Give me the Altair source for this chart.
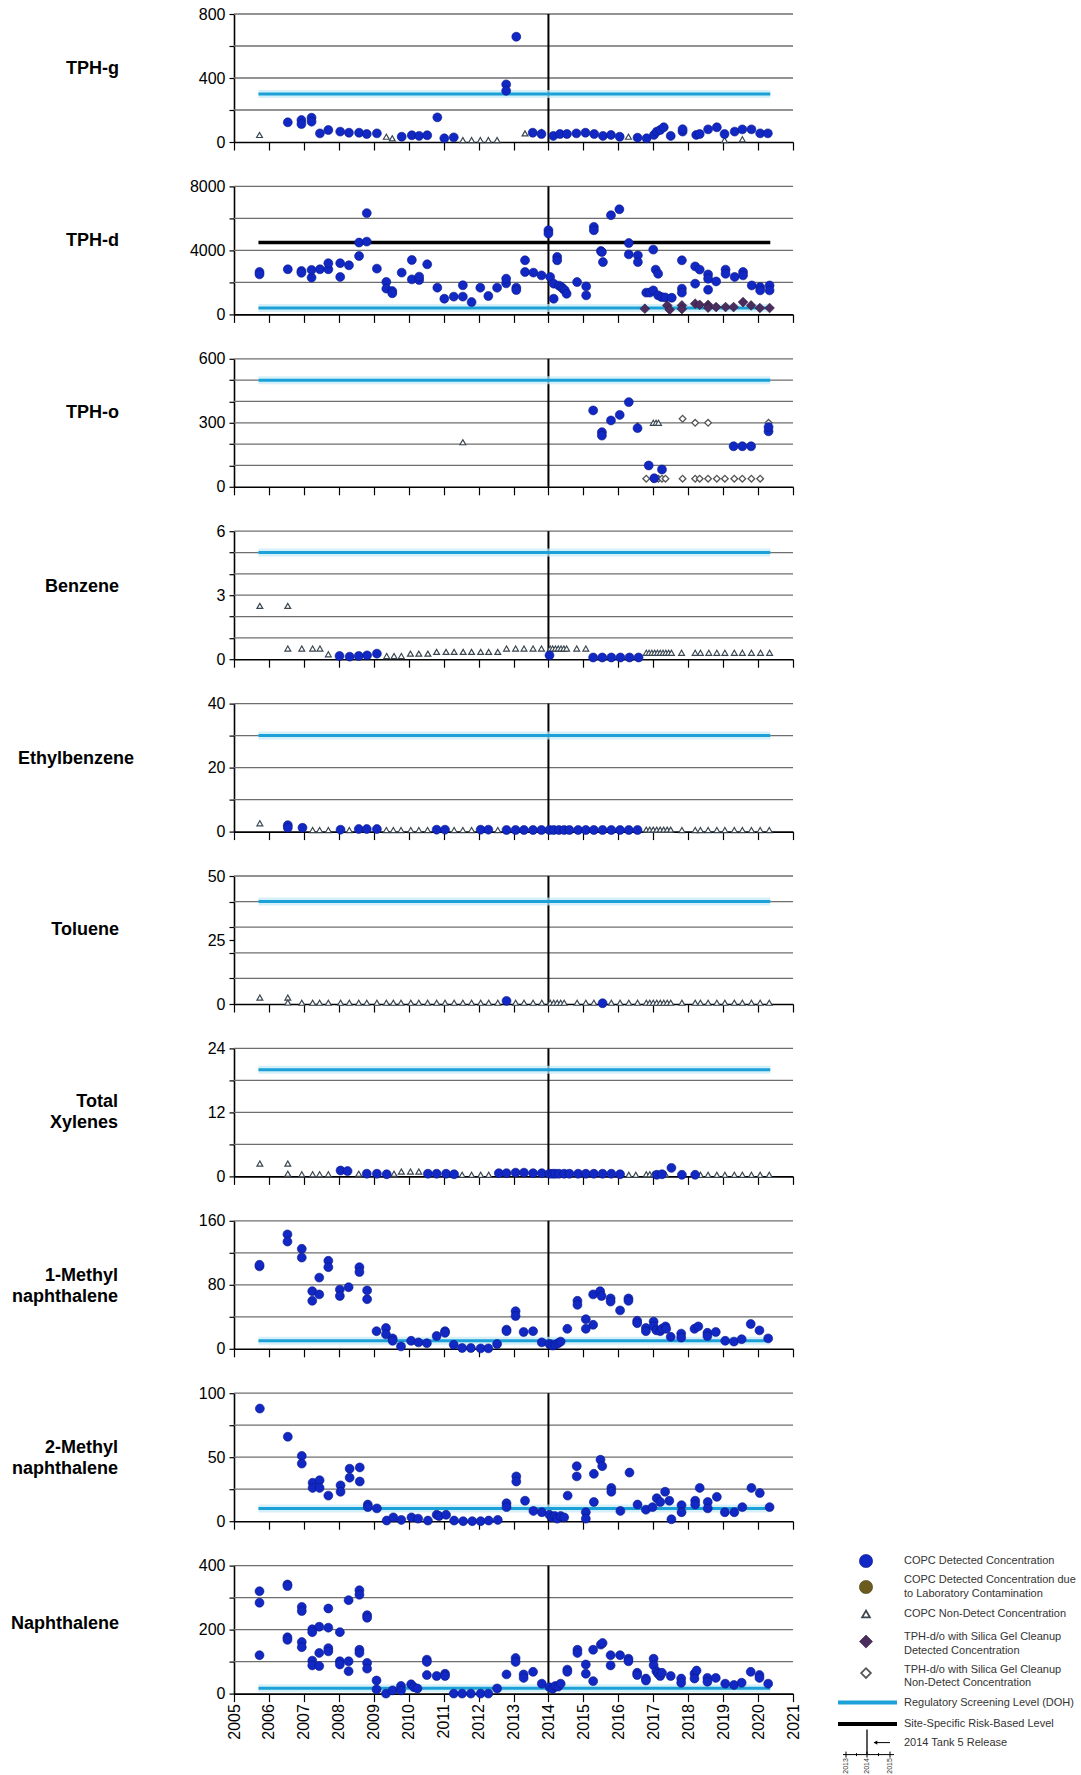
import altair as alt
import pandas as pd

# ---------------- data (year, concentration) ----------------
TPHG_DET = [(2006.54,123),(2006.93,137),(2006.93,112),(2007.22,152),(2007.22,127),(2007.46,54),(2007.7,75),
            (2008.04,65),(2008.29,58),(2008.58,58),(2008.8,50),(2009.09,54),(2009.8,33),(2010.09,42),(2010.3,38),
            (2010.53,42),(2010.82,154),(2011.02,23),(2011.29,29),(2012.79,360),(2012.79,320),(2013.08,658),
            (2013.55,58),(2013.8,50),(2014.14,38),(2014.33,50),(2014.53,50),(2014.8,54),(2015.06,58),(2015.31,50),
            (2015.56,38),(2015.79,44),(2016.04,33),(2016.55,27),(2016.81,23),(2017.02,44),(2017.1,65),(2017.2,75),
            (2017.3,92),(2017.5,38),(2017.84,65),(2017.84,80),(2018.23,44),(2018.33,50),(2018.57,79),(2018.82,92),
            (2019.04,50),(2019.33,65),(2019.55,79),(2019.81,79),(2020.06,54),(2020.28,54)]
TPHG_ND = [(2005.73,44),(2009.36,33),(2009.53,23),(2011.55,12),(2011.8,12),(2012.05,12),(2012.28,12),
           (2012.53,12),(2013.33,54),(2013.8,62),(2016.29,33),(2019.04,12),(2019.55,17)]

TPHD_DET = [(2005.73,2650),(2005.73,2500),(2006.54,2820),(2006.93,2715),(2006.93,2600),(2007.22,2300),
            (2007.22,2780),(2007.46,2820),(2007.7,2820),(2007.7,3200),(2008.04,3200),(2008.04,2340),
            (2008.29,3070),(2008.58,3650),(2008.58,4490),(2008.8,4550),(2008.8,6330),(2009.09,2860),
            (2009.36,2030),(2009.36,1610),(2009.53,1460),(2009.53,1320),(2009.8,2610),(2010.09,2190),
            (2010.09,3400),(2010.3,2150),(2010.3,2360),(2010.53,3130),(2010.82,1670),(2011.02,980),
            (2011.29,1110),(2011.55,1820),(2011.55,1110),(2011.8,770),(2012.05,1670),(2012.28,1150),
            (2012.53,1670),(2012.79,1940),(2012.79,2230),(2013.08,1670),(2013.08,1520),(2013.33,3380),
            (2013.33,2650),(2013.57,2610),(2013.8,2440),(2014.0,5260),(2014.0,5050),(2014.05,2340),
            (2014.15,1920),(2014.15,980),(2014.25,3590),(2014.25,3380),(2014.3,1800),(2014.37,1710),
            (2014.42,1600),(2014.47,1500),(2014.52,1290),(2014.82,2020),(2015.08,1750),(2015.08,1190),
            (2015.3,5470),(2015.3,5260),(2015.5,3960),(2015.53,3900),(2015.56,3270),(2015.79,6200),
            (2016.03,6570),(2016.3,4460),(2016.3,3750),(2016.56,3690),(2016.56,3270),(2016.8,1360),
            (2016.9,1360),(2017.0,4050),(2017.0,1500),(2017.07,2800),(2017.14,2540),(2017.14,1190),
            (2017.24,1080),(2017.34,1060),(2017.53,1040),(2017.82,3380),(2017.82,1610),(2017.82,1360),
            (2018.2,3000),(2018.33,2800),(2018.2,1920),(2018.57,2500),(2018.57,2230),(2018.57,1540),
            (2018.8,2060),(2019.07,2800),(2019.07,2540),(2019.33,2340),(2019.57,2650),(2019.57,2440),
            (2019.82,1810),(2020.06,1710),(2020.06,1500),(2020.33,1810),(2020.33,1500)]
TPHD_SGD = [(2016.76,355),(2017.4,560),(2017.47,290),(2017.82,560),(2017.82,330),(2018.2,670),(2018.33,600),
            (2018.57,600),(2018.57,420),(2018.8,460),(2019.07,460),(2019.3,460),(2019.57,770),(2019.8,560),
            (2020.05,400),(2020.33,400)]

TPHO_DET = [(2015.28,358),(2015.53,256),(2015.53,240),(2015.79,311),(2016.04,337),(2016.3,397),
            (2016.55,275),(2016.87,100),(2017.03,40),(2017.25,81),(2019.3,190),(2019.55,190),(2019.8,190),
            (2020.3,260),(2020.3,280)]
TPHO_ND = [(2011.55,209),(2016.55,287),(2017.0,300),(2017.08,300),(2017.15,300)]
TPHO_SGND = [(2017.84,319),(2018.2,300),(2018.57,300),(2020.3,300),(2016.8,38),(2017.0,38),(2017.15,38),
             (2017.25,38),(2017.35,38),(2017.84,38),(2018.2,38),(2018.33,38),(2018.57,38),(2018.82,38),
             (2019.05,38),(2019.32,38),(2019.55,38),(2019.81,38),(2020.06,38)]

BENZ_DET = [(2008.02,0.15),(2008.31,0.12),(2008.57,0.15),(2008.81,0.18),(2009.09,0.26),(2014.03,0.18),
            (2015.28,0.08),(2015.54,0.08),(2015.8,0.08),(2016.06,0.08),(2016.32,0.08),(2016.58,0.08)]
BENZ_ND = [(2005.74,2.5),(2006.54,2.5),(2006.54,0.5),(2006.94,0.5),(2007.25,0.5),(2007.46,0.5),(2007.7,0.23),
           (2009.37,0.15),(2009.58,0.15),(2009.79,0.15),(2010.05,0.26),(2010.29,0.26),(2010.55,0.26),
           (2010.8,0.34),(2011.07,0.34),(2011.3,0.34),(2011.56,0.34),(2011.8,0.34),(2012.06,0.34),
           (2012.29,0.34),(2012.55,0.34),(2012.8,0.5),(2013.06,0.5),(2013.3,0.5),(2013.56,0.5),(2013.8,0.5),
           (2014.05,0.5),(2014.12,0.5),(2014.2,0.5),(2014.28,0.5),(2014.36,0.5),(2014.44,0.5),(2014.52,0.5),
           (2014.81,0.5),(2015.07,0.5),(2016.8,0.3),(2016.88,0.3),(2016.96,0.3),(2017.04,0.3),(2017.12,0.3),
           (2017.2,0.3),(2017.28,0.3),(2017.36,0.3),(2017.44,0.3),(2017.52,0.3),(2017.81,0.3),(2018.2,0.3),
           (2018.35,0.3),(2018.59,0.3),(2018.82,0.3),(2019.05,0.3),(2019.32,0.3),(2019.55,0.3),(2019.81,0.3),
           (2020.07,0.3),(2020.33,0.3)]

ETHB_DET = [(2006.54,2.0),(2006.54,1.2),(2006.96,1.2),(2008.05,0.6),(2008.57,0.8),(2008.8,0.8),(2009.09,0.8),
            (2010.8,0.6),(2011.04,0.6),(2012.06,0.6),(2012.28,0.6),(2012.8,0.5),(2013.06,0.5),(2013.3,0.5),
            (2013.56,0.5),(2013.8,0.5),(2014.03,0.5),(2014.15,0.5),(2014.3,0.5),(2014.45,0.5),(2014.6,0.5),
            (2014.85,0.5),(2015.07,0.5),(2015.3,0.5),(2015.55,0.5),(2015.8,0.5),(2016.05,0.5),(2016.3,0.5),
            (2016.55,0.5)]
ETHB_ND = [(2005.74,2.6),(2007.25,0.5),(2007.45,0.5),(2007.7,0.5),(2008.3,0.5),(2009.36,0.5),(2009.56,0.5),
           (2009.78,0.5),(2010.06,0.5),(2010.29,0.5),(2010.54,0.5),(2011.3,0.5),(2011.55,0.5),(2011.8,0.5),
           (2012.55,0.5),(2016.8,0.6),(2016.9,0.6),(2017.0,0.6),(2017.1,0.6),(2017.2,0.6),(2017.3,0.6),
           (2017.4,0.6),(2017.5,0.6),(2017.82,0.5),(2018.2,0.5),(2018.35,0.5),(2018.57,0.5),(2018.82,0.5),
           (2019.05,0.5),(2019.32,0.5),(2019.55,0.5),(2019.81,0.5),(2020.06,0.5),(2020.32,0.5)]

TOL_DET = [(2012.8,1.2),(2015.55,0.3)]
TOL_ND = [(2005.74,2.5),(2006.54,2.5),(2006.54,0.6),(2006.94,0.5),(2007.25,0.5),(2007.45,0.5),(2007.7,0.5),
          (2008.05,0.5),(2008.3,0.5),(2008.57,0.5),(2008.8,0.5),(2009.09,0.5),(2009.36,0.5),(2009.56,0.5),
          (2009.78,0.5),(2010.06,0.5),(2010.29,0.5),(2010.54,0.5),(2010.8,0.5),(2011.04,0.5),(2011.3,0.5),
          (2011.55,0.5),(2011.8,0.5),(2012.06,0.5),(2012.29,0.5),(2012.55,0.5),(2013.06,0.5),(2013.3,0.5),
          (2013.56,0.5),(2013.81,0.5),(2014.05,0.5),(2014.15,0.5),(2014.25,0.5),(2014.35,0.5),(2014.45,0.5),
          (2014.82,0.5),(2015.07,0.5),(2015.3,0.5),(2015.8,0.5),(2016.05,0.5),(2016.3,0.5),(2016.55,0.5),
          (2016.8,0.5),(2016.9,0.5),(2017.0,0.5),(2017.1,0.5),(2017.2,0.5),(2017.3,0.5),(2017.4,0.5),
          (2017.5,0.5),(2017.82,0.5),(2018.2,0.5),(2018.35,0.5),(2018.57,0.5),(2018.82,0.5),(2019.05,0.5),
          (2019.32,0.5),(2019.55,0.5),(2019.81,0.5),(2020.06,0.5),(2020.32,0.5)]

XYL_DET = [(2008.05,1.1),(2008.25,1.0),(2008.8,0.5),(2009.09,0.5),(2009.37,0.4),(2010.55,0.5),(2010.8,0.5),
           (2011.07,0.5),(2011.3,0.4),(2012.58,0.6),(2012.8,0.6),(2013.06,0.7),(2013.3,0.7),(2013.56,0.6),
           (2013.81,0.6),(2014.03,0.5),(2014.12,0.5),(2014.2,0.5),(2014.3,0.5),(2014.45,0.5),(2014.6,0.5),
           (2014.85,0.5),(2015.07,0.5),(2015.3,0.5),(2015.55,0.5),(2015.8,0.5),(2016.05,0.4),(2017.1,0.3),
           (2017.25,0.4),(2017.52,1.6),(2017.82,0.3),(2018.2,0.3)]
XYL_ND = [(2005.74,2.4),(2006.54,2.4),(2006.54,0.5),(2006.94,0.4),(2007.25,0.4),(2007.45,0.4),(2007.7,0.4),
          (2008.57,0.5),(2009.58,0.5),(2009.79,0.9),(2010.05,0.9),(2010.29,0.9),(2011.53,0.3),(2011.8,0.3),
          (2012.06,0.3),(2012.29,0.3),(2016.3,0.3),(2016.5,0.3),(2016.8,0.4),(2016.9,0.4),(2017.0,0.4),
          (2017.2,0.4),(2017.35,0.4),(2018.35,0.3),(2018.57,0.3),(2018.82,0.3),(2019.05,0.3),(2019.32,0.3),
          (2019.55,0.3),(2019.81,0.3),(2020.06,0.3),(2020.32,0.3)]

MN1_DET = [(2005.73,103),(2005.73,105),(2006.53,143),(2006.53,134),(2006.94,125),(2006.94,114),(2007.24,72),
           (2007.24,60),(2007.44,89),(2007.44,68),(2007.7,110),(2007.7,102),(2008.03,74),(2008.03,66),
           (2008.28,77),(2008.59,102),(2008.59,96),(2008.81,73),(2008.81,62),(2009.08,22),(2009.35,26),
           (2009.35,18),(2009.54,13),(2009.54,10),(2009.78,3),(2010.07,10),(2010.28,8),(2010.52,7),(2010.8,16),
           (2011.04,22),(2011.04,20),(2011.29,5),(2011.53,1),(2011.78,1),(2012.06,0.5),(2012.28,0.5),
           (2012.53,6),(2012.8,24),(2012.8,22),(2013.06,47),(2013.06,41),(2013.29,21),(2013.56,22),(2013.81,8),
           (2014.03,6),(2014.12,4),(2014.2,5),(2014.28,7),(2014.35,9),(2014.54,25),(2014.83,60),(2014.83,55),
           (2015.07,37),(2015.07,25),(2015.28,30),(2015.28,68),(2015.48,72),(2015.52,66),(2015.78,63),
           (2015.78,59),(2016.05,48),(2016.29,63),(2016.29,60),(2016.54,35),(2016.54,32),(2016.79,26),
           (2016.79,22),(2017.01,34),(2017.01,28),(2017.09,23),(2017.2,22),(2017.25,25),(2017.35,28),
           (2017.37,25),(2017.5,15),(2017.8,19),(2017.8,14),(2018.18,25),(2018.29,28),(2018.55,20),
           (2018.55,16),(2018.79,21),(2019.06,10),(2019.31,9),(2019.53,12),(2019.79,31),(2020.04,23),
           (2020.29,13)]

MN2_DET = [(2005.74,88),(2006.54,66),(2006.94,51),(2006.94,45),(2007.25,30),(2007.25,26),(2007.45,32),
           (2007.45,26),(2007.7,20),(2008.05,28),(2008.05,23),(2008.31,41),(2008.31,34),(2008.6,42),(2008.6,31),
           (2008.83,13),(2008.83,11),(2009.09,10),(2009.37,0.5),(2009.56,3),(2009.79,1),(2010.08,3),(2010.27,2),
           (2010.55,0.5),(2010.8,5),(2010.87,4),(2011.07,5),(2011.3,0.5),(2011.56,0),(2011.82,0),(2012.06,0),
           (2012.29,0.5),(2012.55,1),(2012.8,14),(2012.8,11),(2013.08,35),(2013.08,31),(2013.33,16),
           (2013.57,8),(2013.81,7),(2014.03,5),(2014.1,3),(2014.18,4),(2014.25,2),(2014.35,4),(2014.45,3),
           (2014.55,20),(2014.81,43),(2014.81,35),(2015.07,7),(2015.07,2),(2015.3,37),(2015.3,15),(2015.49,48),
           (2015.54,43),(2015.8,26),(2015.8,23),(2016.06,8),(2016.32,38),(2016.55,13),(2016.79,9),(2016.98,11),
           (2017.1,18),(2017.2,15),(2017.34,23),(2017.46,16),(2017.52,1.5),(2017.81,12.5),(2017.81,7),
           (2018.2,16),(2018.2,13),(2018.33,26),(2018.56,15),(2018.56,10),(2018.82,19),(2019.05,7),(2019.32,7),
           (2019.55,11),(2019.81,26),(2020.05,22),(2020.33,11)]

NAPH_DET = [(2005.73,320),(2005.73,284),(2005.73,120),(2006.53,341),(2006.53,336),(2006.53,176),(2006.53,168),
            (2006.94,271),(2006.94,258),(2006.94,161),(2006.94,145),(2007.24,201),(2007.24,192),(2007.24,103),
            (2007.24,88),(2007.44,209),(2007.44,127),(2007.44,86),(2007.7,266),(2007.7,206),(2007.7,142),
            (2007.7,132),(2008.03,192),(2008.03,101),(2008.03,91),(2008.28,292),(2008.28,101),(2008.28,70),
            (2008.59,323),(2008.59,309),(2008.59,137),(2008.59,127),(2008.81,245),(2008.81,237),(2008.81,96),
            (2008.81,78),(2009.08,41),(2009.08,13),(2009.35,0),(2009.54,10),(2009.78,24),(2009.78,10),
            (2010.07,29),(2010.15,20),(2010.25,16),(2010.52,106),(2010.52,99),(2010.52,58),(2010.8,55),
            (2011.04,62),(2011.04,55),(2011.29,0),(2011.53,0),(2011.78,0),(2012.06,0),(2012.28,0),(2012.53,16),
            (2012.8,60),(2013.06,111),(2013.06,99),(2013.29,60),(2013.29,49),(2013.56,68),(2013.81,31),
            (2014.03,20),(2014.12,15),(2014.2,24),(2014.28,22),(2014.35,31),(2014.54,75),(2014.54,68),
            (2014.83,137),(2014.83,127),(2015.07,91),(2015.07,62),(2015.28,137),(2015.28,39),(2015.5,153),
            (2015.55,158),(2015.78,120),(2015.78,88),(2016.05,120),(2016.29,109),(2016.29,101),(2016.54,65),
            (2016.54,58),(2016.79,47),(2016.79,41),(2017.01,109),(2017.01,89),(2017.09,70),(2017.14,62),
            (2017.2,55),(2017.25,65),(2017.5,55),(2017.8,47),(2017.8,34),(2018.18,62),(2018.24,72),(2018.18,47),
            (2018.55,49),(2018.55,37),(2018.79,49),(2019.06,31),(2019.31,27),(2019.53,34),(2019.79,68),
            (2020.04,58),(2020.04,49),(2020.29,31)]

# panel definitions: label, axis max, grid step, labelled ticks, regulatory level, site-specific level
PANELS = [
    dict(label="TPH-g", top=800, step=200, ticks=[0, 400, 800], reg=300, site=None,
         det=TPHG_DET, nd=TPHG_ND, sgd=[], sgnd=[], lx=-115, ly=55),
    dict(label="TPH-d", top=8000, step=2000, ticks=[0, 4000, 8000], reg=400, site=4500,
         det=TPHD_DET, nd=[], sgd=TPHD_SGD, sgnd=[], lx=-115, ly=55),
    dict(label="TPH-o", top=600, step=100, ticks=[0, 300, 600], reg=500, site=None,
         det=TPHO_DET, nd=TPHO_ND, sgd=[], sgnd=TPHO_SGND, lx=-115, ly=54),
    dict(label="Benzene", top=6, step=1, ticks=[0, 3, 6], reg=5, site=None,
         det=BENZ_DET, nd=BENZ_ND, sgd=[], sgnd=[], lx=-115, ly=56),
    dict(label="Ethylbenzene", top=40, step=10, ticks=[0, 20, 40], reg=30, site=None,
         det=ETHB_DET, nd=ETHB_ND, sgd=[], sgnd=[], lx=-100, ly=55),
    dict(label="Toluene", top=50, step=10, ticks=[0, 25, 50], reg=40, site=None,
         det=TOL_DET, nd=TOL_ND, sgd=[], sgnd=[], lx=-115, ly=54),
    dict(label=["Total", "Xylenes"], top=24, step=6, ticks=[0, 12, 24], reg=20, site=None,
         det=XYL_DET, nd=XYL_ND, sgd=[], sgnd=[], lx=-116, ly=54),
    dict(label=["1-Methyl", "naphthalene"], top=160, step=40, ticks=[0, 80, 160], reg=10, site=None,
         det=MN1_DET, nd=[], sgd=[], sgnd=[], lx=-116, ly=55),
    dict(label=["2-Methyl", "naphthalene"], top=100, step=25, ticks=[0, 50, 100], reg=10, site=None,
         det=MN2_DET, nd=[], sgd=[], sgnd=[], lx=-116, ly=55),
    dict(label="Naphthalene", top=400, step=100, ticks=[0, 200, 400], reg=17, site=None,
         det=NAPH_DET, nd=[], sgd=[], sgnd=[], lx=-115, ly=58),
]

X0, X1 = 2005, 2021
REG_X0, REG_X1 = 2005.7, 2020.35
RELEASE_YEAR = 2014
W, H = 559, 128
FONT = "Liberation Sans"

BLUE = "#1128c4"
BLUE_EDGE = "#0a1785"
OLIVE = "#6b5c1e"
TRI = "#3a4650"
PURPLE = "#4a2c5e"
OPEN_D = "#555555"
CYAN = "#1ba1d8"
CYAN_HALO = "#c4e9f6"
GRID = "#6e6e6e"

DUMMY = pd.DataFrame({"d": [0]})


def pts(lst):
    return pd.DataFrame(lst, columns=["year", "value"])


def make_panel(p, first, last):
    xscale = alt.Scale(domain=[X0, X1], nice=False, zero=False)
    yscale = alt.Scale(domain=[0, p["top"]], nice=False, zero=True)
    grid_vals = [p["step"] * i for i in range(1, int(round(p["top"] / p["step"])) + 1)]
    axis_vals = sorted(set([0] + grid_vals + p["ticks"]))
    half_years = [X0 + 0.5 * i for i in range(int((X1 - X0) * 2) + 1)]

    xaxis = alt.Axis(values=half_years, format="d", title=None, grid=False, labels=last,
                     labelExpr="datum.value % 1 === 0 ? datum.label : ''", labelAngle=270,
                     labelFontSize=16, labelPadding=2, labelOverlap=False, labelFlush=False,
                     labelColor="black", labelFont=FONT,
                     tickSize={"condition": {"test": "datum.value % 1 === 0", "value": 8}, "value": 4},
                     tickColor="black", tickWidth=1.2, domainColor="black", domainWidth=1.6)
    yaxis = alt.Axis(values=axis_vals, format="d", title=None, grid=False,
                     labelExpr="indexof(%s, datum.value) >= 0 ? datum.label : ''" % str(p["ticks"]),
                     labelFontSize=16, labelPadding=4, labelFlush=False, labelColor="black", labelFont=FONT,
                     tickSize=5, tickColor="black", tickWidth=1.2, domainColor="black", domainWidth=1.6)

    def X(f):
        return alt.X(f, type="quantitative", scale=xscale, axis=xaxis)

    def Y(f):
        return alt.Y(f, type="quantitative", scale=yscale, axis=yaxis)

    layers = []
    # horizontal gridlines
    layers.append(alt.Chart(pd.DataFrame({"value": grid_vals})).mark_rule(color=GRID, strokeWidth=1.3)
                  .encode(y=Y("value")))
    # 2014 Tank 5 release line
    layers.append(alt.Chart(pd.DataFrame({"year": [RELEASE_YEAR]})).mark_rule(color="black", strokeWidth=2)
                  .encode(x=X("year")))
    # regulatory screening level
    reg_df = pd.DataFrame({"x0": [REG_X0], "x1": [REG_X1], "value": [p["reg"]]})
    layers.append(alt.Chart(reg_df).mark_rule(color=CYAN_HALO, strokeWidth=8, opacity=0.7)
                  .encode(x=X("x0"), x2="x1", y=Y("value")))
    layers.append(alt.Chart(reg_df).mark_rule(color=CYAN, strokeWidth=3)
                  .encode(x=X("x0"), x2="x1", y=Y("value")))
    if p["site"] is not None:
        site_df = pd.DataFrame({"x0": [REG_X0], "x1": [REG_X1], "value": [p["site"]]})
        layers.append(alt.Chart(site_df).mark_rule(color="black", strokeWidth=3.5)
                      .encode(x=X("x0"), x2="x1", y=Y("value")))
    # data points
    if p["nd"]:
        layers.append(alt.Chart(pts(p["nd"])).mark_point(shape="triangle-up", filled=True, fill="white",
                                                       stroke=TRI, strokeWidth=1.2, size=34, opacity=1)
                      .encode(x=X("year"), y=Y("value")))
    if p["sgnd"]:
        layers.append(alt.Chart(pts(p["sgnd"])).mark_point(shape="diamond", filled=True, fill="white",
                                                         stroke=OPEN_D, strokeWidth=1.3, size=45, opacity=1)
                      .encode(x=X("year"), y=Y("value")))
    if p["det"]:
        layers.append(alt.Chart(pts(p["det"])).mark_point(shape="circle", filled=True, fill=BLUE,
                                                        stroke=BLUE_EDGE, strokeWidth=0.6, size=80, opacity=1)
                      .encode(x=X("year"), y=Y("value")))
    if p["sgd"]:
        layers.append(alt.Chart(pts(p["sgd"])).mark_point(shape="diamond", filled=True, fill=PURPLE,
                                                        stroke="#2e1a3c", strokeWidth=0.6, size=95, opacity=1)
                      .encode(x=X("year"), y=Y("value")))
    # row label
    layers.append(alt.Chart(DUMMY).mark_text(align="right", baseline="middle", font=FONT, fontSize=18,
                                             fontWeight="bold", lineHeight=21, color="black")
                  .encode(x=alt.value(p["lx"]), y=alt.value(p["ly"]), text=alt.value(p["label"])))
    if first:
        # invisible anchor that fixes the page offset of the plot area
        layers.append(alt.Chart(DUMMY).mark_rule(color="white", strokeWidth=1)
                      .encode(x=alt.value(-233.5), x2=alt.value(-228), y=alt.value(-13.1)))
    if last:
        layers.extend(legend_layers())
    return alt.layer(*layers).properties(width=W, height=H)


def legend_layers():
    L = []
    mx, tx = 632, 670

    def pt(y, shape, size, fill, stroke, sw):
        return alt.Chart(DUMMY).mark_point(shape=shape, filled=True, fill=fill, stroke=stroke,
                                           strokeWidth=sw, size=size, opacity=1).encode(
            x=alt.value(mx), y=alt.value(y))

    L.append(pt(-4.6, "circle", 175, BLUE, BLUE_EDGE, 0.6))
    L.append(pt(21.4, "circle", 175, OLIVE, "#4d4214", 0.6))
    L.append(pt(48.4, "triangle-up", 60, "white", TRI, 1.8))
    L.append(pt(76, "diamond", 170, PURPLE, "#2e1a3c", 0.6))
    L.append(pt(107.5, "diamond", 95, "white", OPEN_D, 1.8))
    L.append(alt.Chart(DUMMY).mark_rule(color=CYAN, strokeWidth=4).encode(
        x=alt.value(604), x2=alt.value(663), y=alt.value(137)))
    L.append(alt.Chart(DUMMY).mark_rule(color="black", strokeWidth=4).encode(
        x=alt.value(604), x2=alt.value(663), y=alt.value(158.5)))
    # mini "2014 Tank 5 Release" graphic
    ax_y = 189
    L.append(alt.Chart(DUMMY).mark_rule(color="black", strokeWidth=1.3).encode(
        x=alt.value(633), y=alt.value(164), y2=alt.value(ax_y)))
    L.append(alt.Chart(DUMMY).mark_rule(color="black", strokeWidth=1).encode(
        x=alt.value(640), x2=alt.value(656), y=alt.value(177)))
    L.append(alt.Chart(DUMMY).mark_point(shape="triangle-left", filled=True, color="black", size=18,
                                         opacity=1).encode(x=alt.value(641.5), y=alt.value(177)))
    L.append(alt.Chart(DUMMY).mark_rule(color="black", strokeWidth=1).encode(
        x=alt.value(609), x2=alt.value(660), y=alt.value(ax_y)))
    for xv, big in [(612, True), (622.5, False), (633, True), (644.5, False), (656, True)]:
        L.append(alt.Chart(DUMMY).mark_rule(color="black", strokeWidth=1).encode(
            x=alt.value(xv), y=alt.value(ax_y - 3 if big else ax_y - 1.5),
            y2=alt.value(ax_y + 3 if big else ax_y + 1.5)))
    for xv, t in [(612, "2013"), (633, "2014"), (656, "2015")]:
        L.append(alt.Chart(DUMMY).mark_text(align="right", baseline="middle", angle=270, font=FONT,
                                            fontSize=7, color="#333333").encode(
            x=alt.value(xv), y=alt.value(ax_y + 3.5), text=alt.value(t)))
    texts = [
        ("COPC Detected Concentration", -4.6),
        ("COPC Detected Concentration due", 14.4),
        ("to Laboratory Contamination", 28.4),
        ("COPC Non-Detect Concentration", 48.4),
        ("TPH-d/o with Silica Gel Cleanup", 71.4),
        ("Detected Concentration", 84.9),
        ("TPH-d/o with Silica Gel Cleanup", 104.2),
        ("Non-Detect Concentration", 117.8),
        ("Regulatory Screening Level (DOH)", 137),
        ("Site-Specific Risk-Based Level", 158.5),
        ("2014 Tank 5 Release", 177),
    ]
    for t, yv in texts:
        L.append(alt.Chart(DUMMY).mark_text(align="left", baseline="middle", font=FONT, fontSize=11,
                                            color="#333333").encode(
            x=alt.value(tx), y=alt.value(yv), text=alt.value(t)))
    return L


panels = [make_panel(p, i == 0, i == len(PANELS) - 1) for i, p in enumerate(PANELS)]

chart = alt.vconcat(*panels, spacing=44.4, bounds="flush").properties(
    padding=0, background="white"
).configure_view(stroke=None)

chart.save("out.html", embed_options={"renderer": "svg", "actions": False})
